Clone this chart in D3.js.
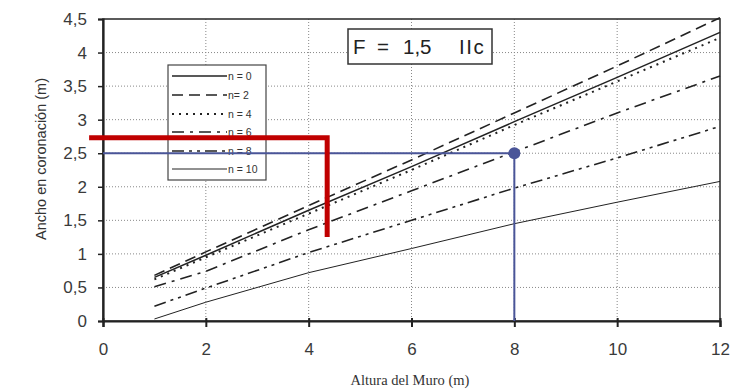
<!DOCTYPE html>
<html><head><meta charset="utf-8">
<script src="https://cdn.jsdelivr.net/npm/d3@7"></script>
<style>body{margin:0;background:#fff}</style>
</head><body>
<svg id="c" width="738" height="392"></svg>
<script>
const xValues = [1, 2, 4, 6, 8, 10, 12];
const seriesNames = ["n = 0", "n= 2", "n = 4", "n = 6", "n = 8", "n = 10"];
const n0  = [0.65, 0.98, 1.65, 2.30, 2.97, 3.63, 4.30];
const n2  = [0.68, 1.03, 1.72, 2.40, 3.10, 3.80, 4.52];
const n4  = [0.62, 0.95, 1.60, 2.25, 2.92, 3.57, 4.22];
const n6  = [0.51, 0.74, 1.36, 1.94, 2.52, 3.10, 3.65];
const n8  = [0.22, 0.49, 1.02, 1.50, 1.98, 2.43, 2.90];
const n10 = [0.03, 0.28, 0.72, 1.08, 1.45, 1.77, 2.08];
const xTicks = [0, 2, 4, 6, 8, 10, 12];
const yTicks = [0, 0.5, 1, 1.5, 2, 2.5, 3, 3.5, 4, 4.5];
const bluePoint = [8, 2.5];
const redPath = [[-0.27, 2.73], [4.36, 2.73], [4.36, 1.25]];
const titleParts = ["F", "=", "1,5", "IIc"];
const xLabel = "Altura del Muro (m)";
const yLabel = "Ancho en coronación (m)";

const allSeries = [n0, n2, n4, n6, n8, n10];
const styles = [
  {dash: null, w: 1.5},
  {dash: "11,6", w: 1.6},
  {dash: "2,5", w: 2},
  {dash: "12,6,3,6", w: 1.6},
  {dash: "12,5,3,5,3,5", w: 1.6},
  {dash: null, w: 1}
];

const svg = d3.select("#c");
const L = 103, R = 720, T = 19, B = 321;
const x = d3.scaleLinear().domain([0, 12]).range([L, R]);
const y = d3.scaleLinear().domain([0, 4.5]).range([B, T]);
const FONT = "Liberation Sans, Arial, sans-serif";

// grid
const g = svg.append("g");
g.selectAll(".gx").data(xTicks.filter(d => d > 0 && d < 12)).enter().append("line")
  .attr("x1", d => x(d)).attr("x2", d => x(d)).attr("y1", T).attr("y2", B)
  .attr("stroke", "#888").attr("stroke-width", 1).attr("stroke-dasharray", "1,2");
g.selectAll(".gy").data(yTicks.filter(d => d > 0 && d < 4.5)).enter().append("line")
  .attr("x1", L).attr("x2", R).attr("y1", d => y(d)).attr("y2", d => y(d))
  .attr("stroke", "#888").attr("stroke-width", 1).attr("stroke-dasharray", "1,2");

// frame
svg.append("rect").attr("x", L).attr("y", T).attr("width", R - L).attr("height", B - T)
  .attr("fill", "none").attr("stroke", "#333").attr("stroke-width", 1.6);

// axes
const xAxis = d3.axisBottom(x).tickValues(xTicks).tickSize(6).tickPadding(16)
  .tickFormat(d3.format("d"));
const ax = svg.append("g").attr("transform", `translate(0,${B})`).call(xAxis);
ax.select(".domain").attr("stroke", "#222").attr("stroke-width", 2.2);
ax.selectAll(".tick line").attr("stroke", "#222").attr("stroke-width", 2).attr("y1", -3);
ax.selectAll("text").attr("font-family", FONT).attr("font-size", 17).attr("fill", "#3a3a3a");

const yAxis = d3.axisLeft(y).tickValues(yTicks).tickSize(5).tickPadding(11)
  .tickFormat(d => String(d).replace(".", ","));
const ay = svg.append("g").attr("transform", `translate(${L},0)`).call(yAxis);
ay.select(".domain").attr("stroke", "#222").attr("stroke-width", 2.2);
ay.selectAll(".tick line").attr("stroke", "#222").attr("stroke-width", 1.5);
ay.selectAll("text").attr("font-family", FONT).attr("font-size", 17).attr("fill", "#3a3a3a");

// lines
const line = d3.line().x((d, i) => x(xValues[i])).y(d => y(d));
allSeries.forEach((s, i) => {
  svg.append("path").datum(s).attr("d", line).attr("fill", "none")
    .attr("stroke", "#222").attr("stroke-width", styles[i].w)
    .attr("stroke-dasharray", styles[i].dash);
});

// title box
svg.append("rect").attr("x", 348).attr("y", 29).attr("width", 144).attr("height", 35)
  .attr("fill", "#fff").attr("stroke", "#333").attr("stroke-width", 1.5);
const titleX = [353, 377, 403, 459];
titleParts.forEach((t, i) => {
  svg.append("text").attr("x", titleX[i]).attr("y", 54)
    .attr("font-family", FONT).attr("font-size", 20.5)
    .attr("letter-spacing", i === 3 ? 1.5 : 0)
    .attr("fill", "#222").text(t);
});

// legend
const lg = svg.append("g");
lg.append("rect").attr("x", 168).attr("y", 65).attr("width", 98).attr("height", 115)
  .attr("fill", "#fff").attr("stroke", "#444").attr("stroke-width", 1.2);
const ly = [76, 95, 114, 132, 151, 169];
seriesNames.forEach((name, i) => {
  lg.append("line").attr("x1", 172).attr("x2", 227).attr("y1", ly[i]).attr("y2", ly[i])
    .attr("stroke", "#222").attr("stroke-width", styles[i].w)
    .attr("stroke-dasharray", styles[i].dash);
  lg.append("text").attr("x", 228).attr("y", ly[i] + 4)
    .attr("font-family", FONT).attr("font-size", 10.5)
    .attr("fill", "#333").text(name);
});

// blue annotation
const blue = "#4a5598";
svg.append("path")
  .attr("d", d3.line()([[x(0), y(bluePoint[1])], [x(bluePoint[0]), y(bluePoint[1])], [x(bluePoint[0]), y(0)]]))
  .attr("fill", "none").attr("stroke", blue).attr("stroke-width", 2);
svg.append("circle").attr("cx", x(bluePoint[0])).attr("cy", y(bluePoint[1])).attr("r", 6)
  .attr("fill", blue);

// red annotation
svg.append("path").attr("d", d3.line().x(d => x(d[0])).y(d => y(d[1]))(redPath))
  .attr("fill", "none").attr("stroke", "#c00000").attr("stroke-width", 5)
  .attr("stroke-linejoin", "miter");

// axis labels
svg.append("text").attr("x", 410).attr("y", 385).attr("text-anchor", "middle")
  .attr("font-family", "Liberation Serif, Times New Roman, serif").attr("font-size", 14.5)
  .attr("fill", "#333").text(xLabel);
svg.append("text").attr("transform", "translate(46,159) rotate(-90)").attr("text-anchor", "middle")
  .attr("font-family", FONT).attr("font-size", 14.5)
  .attr("fill", "#333").text(yLabel);
</script>
</body></html>
